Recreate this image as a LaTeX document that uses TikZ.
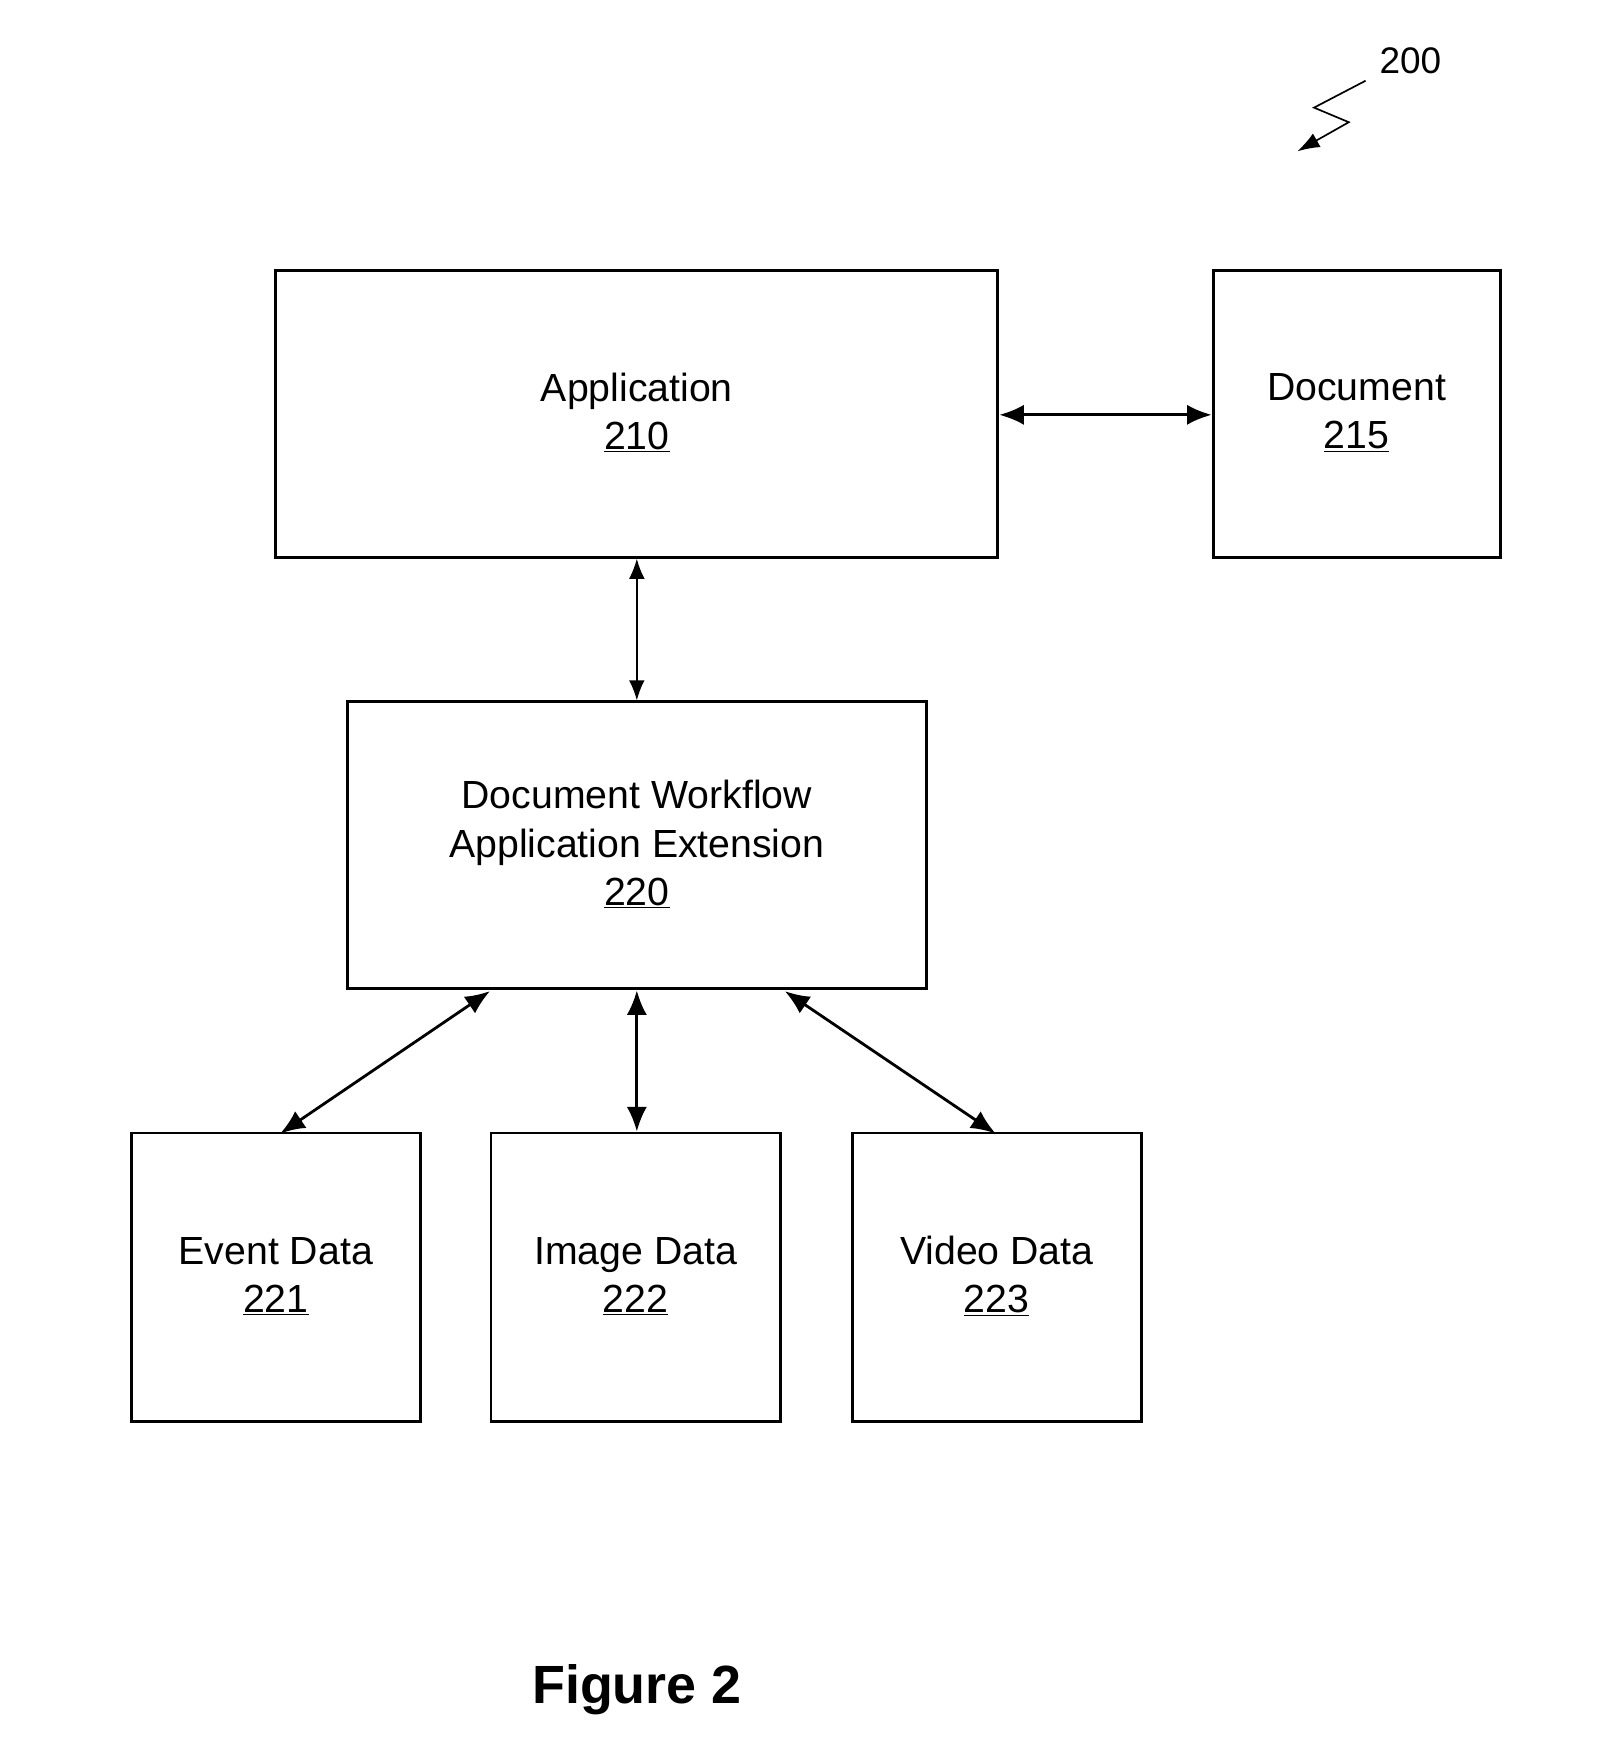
\documentclass[tikz,border=0pt]{standalone}
\usepackage{fontspec}
\setmainfont{Liberation Sans}
\usetikzlibrary{arrows.meta}
\begin{document}
\begin{tikzpicture}[x=1pt,y=-1pt,
  box/.style={draw,line width=2.5pt,inner sep=0pt},
  lbl/.style={align=center,font=\fontsize{35}{43}\selectfont},
  arr/.style={{Latex[length=22pt,width=18pt]}-{Latex[length=22pt,width=18pt]},line width=2.5pt},
  thin/.style={{Latex[length=18pt,width=14pt]}-{Latex[length=18pt,width=14pt]},line width=1.5pt}]
\useasboundingbox (0,0) rectangle (1440,1568);
\node[box,minimum width=644pt,minimum height=256pt] (app) at (568,369) {};
\node[lbl] at (568,368) {Application\\\underline{210}};
\node[box,minimum width=256pt,minimum height=256pt] (doc) at (1210,369) {};
\node[lbl] at (1210,368) {Document\\\underline{215}};
\node[box,minimum width=516pt,minimum height=256pt] (ext) at (568,754) {};
\node[lbl] at (568,753) {Document Workflow\\Application Extension\\\underline{220}};
\node[box,minimum width=258pt,minimum height=257pt] (ev) at (246,1139) {};
\node[lbl] at (246,1138) {Event Data\\\underline{221}};
\node[box,minimum width=258pt,minimum height=257pt] (im) at (567,1139) {};
\node[lbl] at (567,1138) {Image Data\\\underline{222}};
\node[box,minimum width=258pt,minimum height=257pt] (vi) at (889,1139) {};
\node[lbl] at (889,1138) {Video Data\\\underline{223}};
\draw[arr] (app.east|-0,370) -- (doc.west|-0,370);
\draw[thin] (app.south-|568,0) -- (ext.north-|568,0);
\draw[arr] (ext.south-|568,0) -- (im.north-|568,0);
\coordinate (e1) at (437,884); \coordinate (e2) at (250,1011);
\coordinate (v1) at (700,884); \coordinate (v2) at (888,1011);
\draw[arr] (e1) -- (e2);
\draw[arr] (v1) -- (v2);
\node[font=\fontsize{33}{40}\selectfont] (n200) at (1258,54) {200};
\coordinate (z) at (1157,135);
\draw[line width=1.5pt,-{Latex[length=20pt,width=14pt]}] (1218,72) -- (1172,96) -- (1203,109) -- (z);
\node[font=\bfseries\fontsize{48}{56}\selectfont] (fig) at (568,1507) {Figure 2};
\end{tikzpicture}
\end{document}
